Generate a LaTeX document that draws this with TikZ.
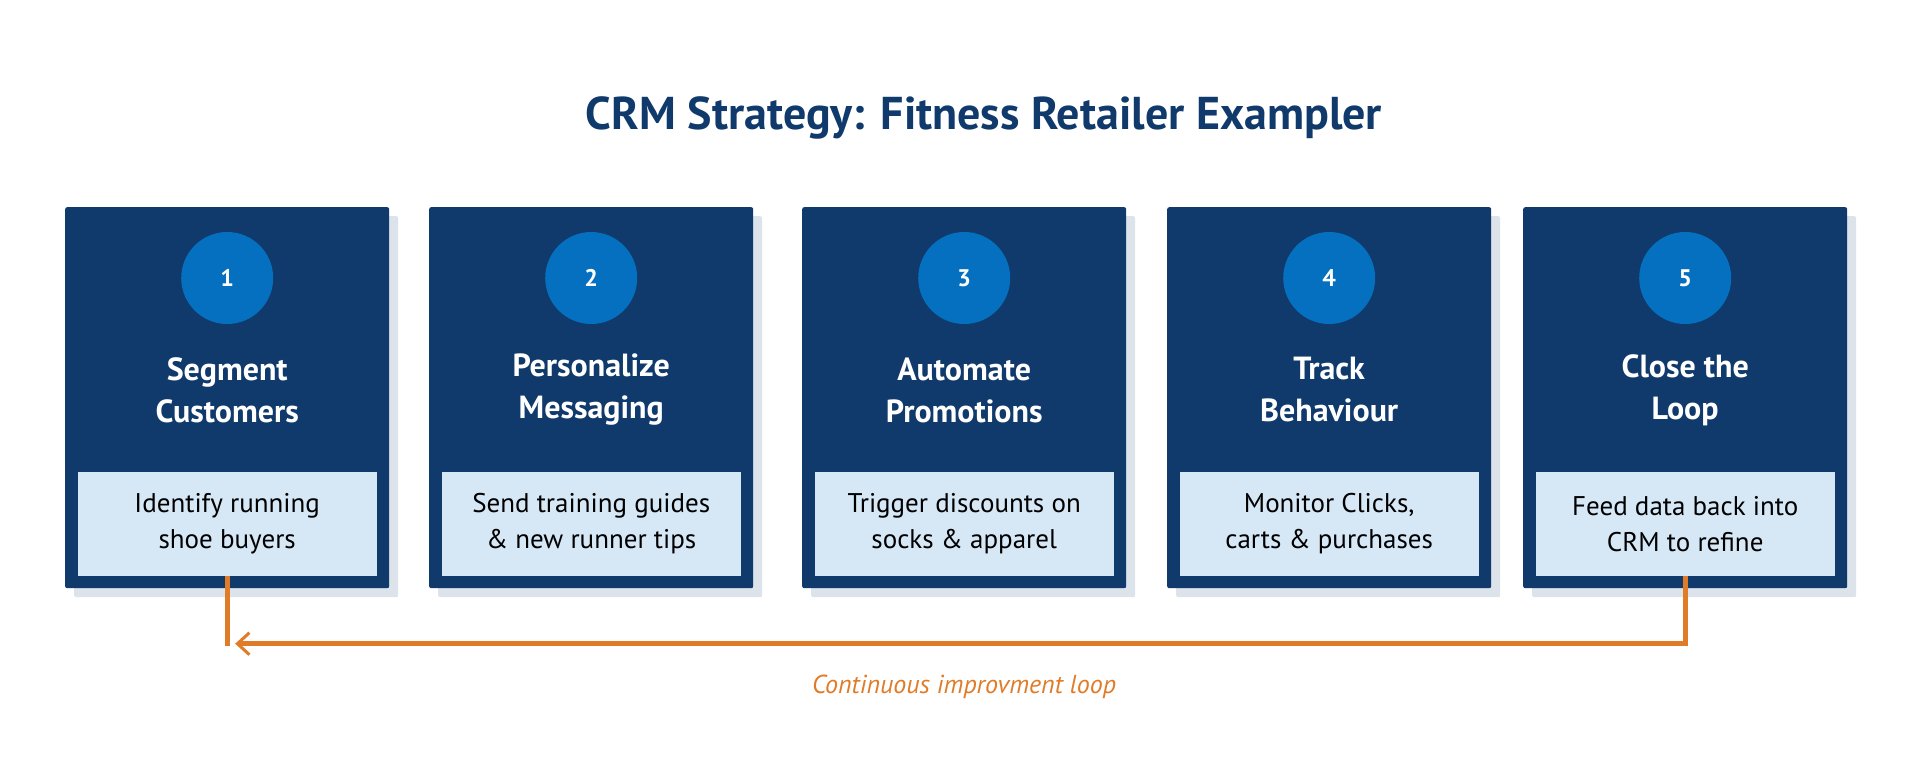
\documentclass[tikz,border=0pt]{standalone}
\usepackage{fontspec}
\setmainfont{PT Sans}
\usetikzlibrary{calc,positioning,arrows.meta}
\definecolor{navy}{HTML}{103A6B}
\definecolor{stepblue}{HTML}{0570BF}
\definecolor{paleblue}{HTML}{D6E7F6}
\definecolor{shade}{HTML}{DDE3EA}
\definecolor{loopor}{HTML}{E07B28}
\begin{document}
\begin{tikzpicture}[x=1pt,y=-1pt,
    stepbox/.style={fill=navy,rounded corners=2pt,minimum width=324pt,minimum height=381pt,anchor=north west,inner sep=0pt},
    shadowbox/.style={fill=shade,rounded corners=2pt,minimum width=324pt,minimum height=381pt,anchor=north west,inner sep=0pt},
    numdot/.style={circle,fill=stepblue,minimum size=92pt,text=white,font=\bfseries\fontsize{24}{28}\selectfont,inner sep=0pt},
    headtext/.style={text=white,align=center,font=\bfseries\fontsize{32}{42}\selectfont},
    descbox/.style={fill=paleblue,minimum width=299pt,minimum height=104pt,align=center,font=\fontsize{27}{36}\selectfont,inner sep=0pt},
    loopline/.style={draw=loopor,line width=5pt}]
 \useasboundingbox (0,0) rectangle (1916,758);
 \node[font=\bfseries\fontsize{46}{52}\selectfont,text=navy] (title) at (984,118) {CRM Strategy: Fitness Retailer Exampler};
 % five steps
 \foreach \i/\xl/\head/\desc in {
   1/65/{Segment\\Customers}/{Identify running\\shoe buyers},
   2/429/{Personalize\\Messaging}/{Send training guides\\\& new runner tips},
   3/802/{Automate\\Promotions}/{Trigger discounts on\\socks \& apparel},
   4/1167/{Track\\Behaviour}/{Monitor Clicks,\\carts \& purchases},
   5/1523/{Close the\\Loop}/{Feed data back into\\CRM to refine}}{
   \node[shadowbox] at (\xl+9,216) {};
   \node[stepbox] (step\i) at (\xl,207) {};
   \node[numdot] (circ\i) at ($(step\i.north)+(0,71)$) {\i};
   \node[headtext] (head\i) at ($(step\i.north)+(0,183)$) {\head};
   \node[descbox] (desc\i) at ($(step\i.north)+(0,317)$) {\desc};
 }
 \coordinate (turn1) at ($(desc1.south)+(0,70)$);
 \coordinate (tip1) at ($(turn1)+(8,-2.5)$);
 \draw[loopline] (desc1.south) -- (turn1);
 \draw[loopline,-{Straight Barb[length=12pt,width=22pt,line width=3pt]}] (desc5.south) |- (tip1);
 \node[text=loopor,font=\itshape\fontsize{26}{30}\selectfont] (looplabel) at (964,687) {Continuous improvment loop};
\end{tikzpicture}
\end{document}
